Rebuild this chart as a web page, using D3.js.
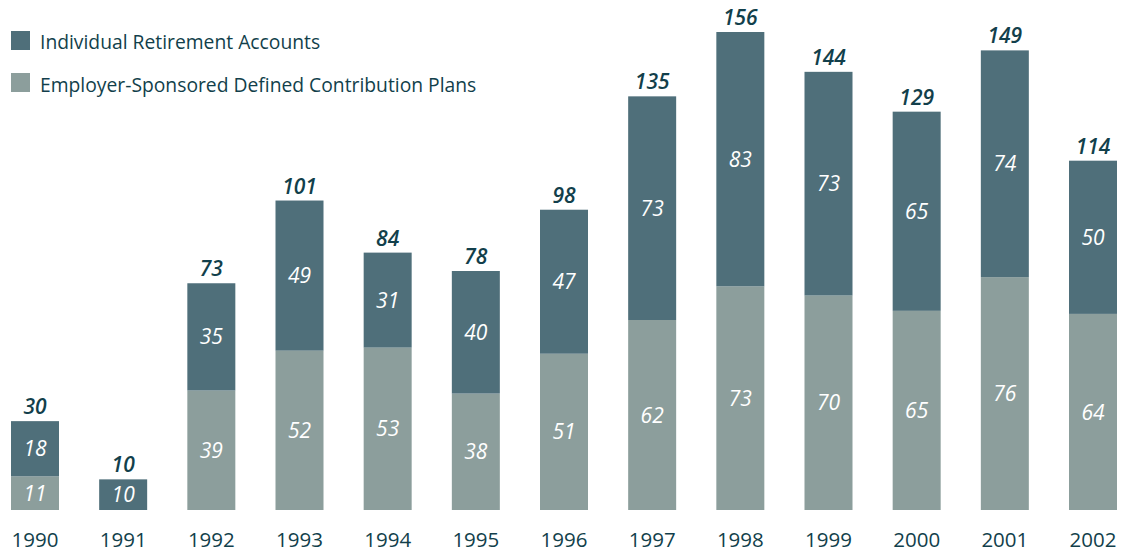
<!DOCTYPE html>
<html>
<head>
<meta charset="utf-8">
<script src="https://cdn.jsdelivr.net/npm/d3@7"></script>
<style>
html,body{margin:0;padding:0;background:#fff;}
svg{display:block;font-family:"Open Sans","Noto Sans",sans-serif;}
</style>
</head>
<body>
<svg id="chart" width="1129" height="552"></svg>
<script>
const years = ["1990","1991","1992","1993","1994","1995","1996","1997","1998","1999","2000","2001","2002"];
const employer = [11, 0, 39, 52, 53, 38, 51, 62, 73, 70, 65, 76, 64];
const ira = [18, 10, 35, 49, 31, 40, 47, 73, 83, 73, 65, 74, 50];
const totals = [30, 10, 73, 101, 84, 78, 98, 135, 156, 144, 129, 149, 114];
const seriesNames = ["Individual Retirement Accounts", "Employer-Sponsored Defined Contribution Plans"];

const colIRA = "#4f6f7a", colEmp = "#8c9e9c", textCol = "#123f4b";

const svg = d3.select("#chart");
const x = d3.scaleBand().domain(years).range([11, 1117]).paddingInner(0.4556).paddingOuter(0);
const y = d3.scaleLinear().domain([0, 156]).range([510, 32]);

const rows = years.map((yr, i) => ({year: yr, emp: employer[i], ira: ira[i], total: totals[i]}));
const stack = d3.stack().keys(["emp", "ira"])(rows);
const colors = {emp: colEmp, ira: colIRA};

stack.forEach(layer => {
  const g = svg.append("g");
  g.selectAll("rect").data(layer.filter(d => d[1] > d[0])).join("rect")
    .attr("x", d => x(d.data.year))
    .attr("width", x.bandwidth())
    .attr("y", d => y(d[1]))
    .attr("height", d => y(d[0]) - y(d[1]))
    .attr("fill", colors[layer.key]);
  g.selectAll("text").data(layer.filter(d => d[1] > d[0])).join("text")
    .attr("x", d => x(d.data.year) + x.bandwidth() / 2)
    .attr("y", d => (y(d[0]) + y(d[1])) / 2)
    .attr("dy", "0.36em")
    .attr("text-anchor", "middle")
    .attr("font-size", 21)
    .attr("font-style", "italic")
    .attr("fill", "#ffffff")
    .text(d => d.data[layer.key]);
});

// totals
svg.append("g").selectAll("text").data(rows).join("text")
  .attr("x", d => x(d.year) + x.bandwidth() / 2)
  .attr("y", d => y(d.emp + d.ira) - 7)
  .attr("text-anchor", "middle")
  .attr("font-size", 21)
  .attr("font-style", "italic")
  .attr("font-weight", 600)
  .attr("fill", textCol)
  .text(d => d.total);

// x axis labels
const xAxis = d3.axisBottom(x).tickSize(0).tickPadding(0);
const ax = svg.append("g").attr("transform", "translate(0,532)").call(xAxis);
ax.select(".domain").remove();
ax.selectAll("text").attr("font-size", 20.5).attr("fill", textCol)
  .attr("font-family", "\"Open Sans\",\"Noto Sans\",sans-serif");

// legend
const leg = svg.append("g");
const legColors = [colIRA, colEmp];
seriesNames.forEach((name, i) => {
  leg.append("rect").attr("x", 11).attr("y", 31 + i * 42).attr("width", 19).attr("height", 19).attr("fill", legColors[i]);
  leg.append("text").attr("x", 40).attr("y", 49 + i * 43).attr("font-size", 19.3).attr("fill", textCol).text(name);
});
</script>
</body>
</html>
